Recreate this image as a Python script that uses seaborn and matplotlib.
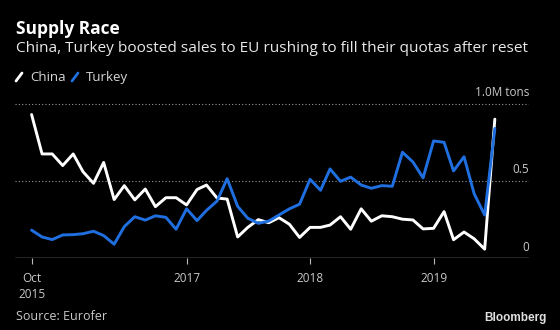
import matplotlib
matplotlib.use("Agg")
import matplotlib.pyplot as plt
import matplotlib.transforms as mtransforms
import seaborn as sns
import pandas as pd
import numpy as np

# ---- data ----
start_month = "2015-10-01"
n_months = 46
china = [0.93, 0.675, 0.675, 0.60, 0.675, 0.56, 0.485, 0.62, 0.38, 0.47,
         0.378, 0.448, 0.334, 0.392, 0.392, 0.345, 0.445, 0.474, 0.39, 0.383,
         0.138, 0.20, 0.25, 0.23, 0.263, 0.22, 0.135, 0.20, 0.20, 0.215,
         0.269, 0.188, 0.32, 0.24, 0.275, 0.269, 0.253, 0.248, 0.19, 0.194,
         0.302, 0.12, 0.17, 0.126, 0.059, 0.90]
turkey = [0.182, 0.138, 0.121, 0.151, 0.153, 0.159, 0.175, 0.147, 0.091, 0.205,
          0.269, 0.247, 0.275, 0.265, 0.188, 0.32, 0.244, 0.31, 0.37, 0.515,
          0.336, 0.259, 0.226, 0.241, 0.28, 0.32, 0.35, 0.511, 0.44, 0.578,
          0.498, 0.525, 0.474, 0.453, 0.47, 0.466, 0.686, 0.623, 0.52, 0.759,
          0.75, 0.565, 0.657, 0.417, 0.28, 0.84]
series_names = ["China", "Turkey"]
series_colors = ["#ffffff", "#1f6fe0"]
xtick_dates = ["2015-10-01", "2017-01-01", "2018-01-01", "2019-01-01"]
xtick_labels = ["Oct\n2015", "2017", "2018", "2019"]
yticks = [0, 0.5, 1.0]
ytick_labels = ["0", "0.5", "1.0M tons"]

dates = pd.date_range(start_month, periods=n_months, freq="MS")
df = pd.DataFrame({"date": np.concatenate([dates, dates]),
                   "value": china + turkey,
                   "series": ["China"] * n_months + ["Turkey"] * n_months})

# ---- figure ----
BG = "#000000"
sns.set_theme(style="dark")
plt.rcParams["font.family"] = ["Open Sans", "DejaVu Sans"]
fig = plt.figure(figsize=(5.6, 3.3), dpi=100, facecolor=BG)
ax = fig.add_axes([15 / 560, (330 - 258.3) / 330, 514 / 560, 1.05 * 154.6 / 330])
ax.set_facecolor(BG)

sns.lineplot(data=df, x="date", y="value", hue="series", hue_order=series_names,
             palette=series_colors, linewidth=2.1, legend=False, ax=ax,
             zorder=3)

x0 = pd.Timestamp(start_month)
ax.set_xlim(x0 - pd.Timedelta(days=49), x0 + pd.Timedelta(days=1470))
ax.set_ylim(0, 1.05)

for s in ax.spines.values():
    s.set_visible(False)
ax.grid(False)

# gridlines
for yv in yticks[1:]:
    ax.axhline(yv, color="#9a9a9a", linestyle=(0, (1, 2)), linewidth=0.8, zorder=1)
ax.axhline(0, color="#bbbbbb", linewidth=1.0, zorder=2)

# y labels (right side, above gridlines)
trans = mtransforms.blended_transform_factory(ax.transAxes, ax.transData)
for yv, lab in zip(yticks, ytick_labels):
    ax.text(1.0, yv + 0.03, lab, transform=trans, ha="right", va="bottom",
            color="#c8c8c8", fontsize=8.5)
ax.set_yticks([])

ax.set_xticks(pd.to_datetime(xtick_dates))
ax.set_xticklabels(xtick_labels, color="#c8c8c8", fontsize=8.5,
                   linespacing=1.3)
ax.tick_params(axis="x", length=4, width=0.8, color="#bbbbbb", pad=6,
               bottom=True, direction="out")
ax.set_xlabel("")
ax.set_ylabel("")

# titles
fig.text(16 / 560, 1 - 29 / 330, "Supply Race", color="white", fontsize=12.5,
         fontweight="bold", va="center", ha="left")
fig.text(16 / 560, 1 - 49 / 330,
         "China, Turkey boosted sales to EU rushing to fill their quotas after reset",
         color="#e8e8e8", fontsize=11.1, va="center", ha="left")

# legend
leg_y = 1 - 77 / 330
for xs, name, col in [(16, "China", series_colors[0]), (72, "Turkey", series_colors[1])]:
    fig.add_artist(plt.Line2D([xs / 560, (xs + 6) / 560],
                              [leg_y - 4 / 330, leg_y + 4 / 330],
                              color=col, linewidth=2, transform=fig.transFigure))
    fig.text((xs + 14) / 560, leg_y, name, color="#d8d8d8", fontsize=9.5,
             va="center", ha="left")

fig.text(16 / 560, 1 - 317 / 330, "Source: Eurofer", color="#c8c8c8",
         fontsize=9, va="center", ha="left")
fig.text(547 / 560, 1 - 318 / 330, "Bloomberg", color="#e0e0e0", fontsize=8.5,
         fontweight="bold", va="center", ha="right", family=["Liberation Sans", "DejaVu Sans"])

fig.savefig("out.png", dpi=100, facecolor=BG)
